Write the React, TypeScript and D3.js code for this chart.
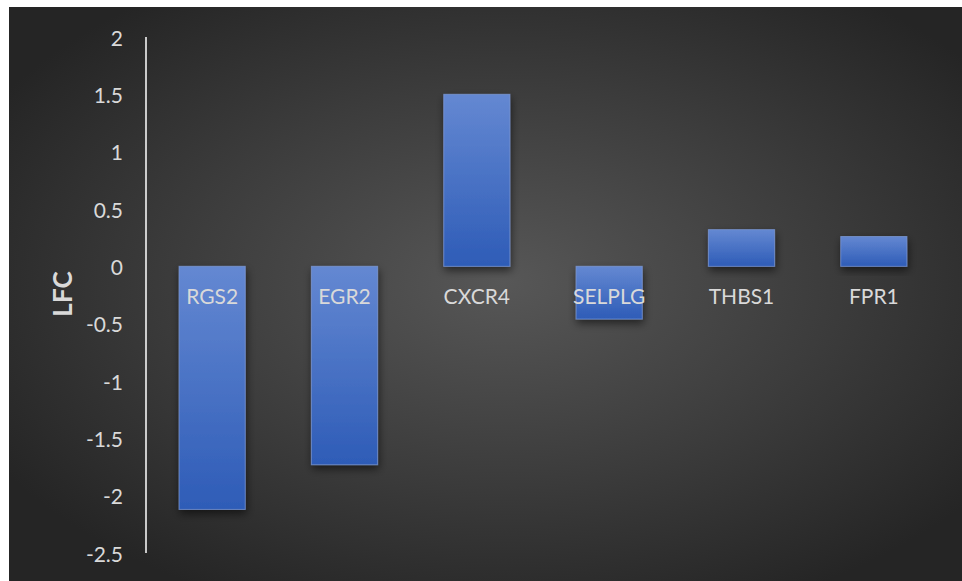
import React from "react";
import * as d3 from "d3";

// Log fold change per gene
const genes = ["RGS2", "EGR2", "CXCR4", "SELPLG", "THBS1", "FPR1"];
const lfc = [-2.12, -1.73, 1.5, -0.46, 0.32, 0.26];
const yTicks = [2, 1.5, 1, 0.5, 0, -0.5, -1, -1.5, -2, -2.5];
const yTitle = "LFC";

const W = 962;
const H = 581;
const FONT = "Lato, 'Open Sans', sans-serif";
const TEXT = "#d9d9d9";

export default function App() {
  const x = d3
    .scaleBand<string>()
    .domain(genes)
    .range([146, 940])
    .paddingInner(0.5)
    .paddingOuter(0.25);
  const y = d3.scaleLinear().domain([-2.5, 2]).range([553, 37]);
  const y0 = y(0);

  return (
    <svg
      width={W}
      height={H}
      style={{ position: "absolute", left: 0, top: 0, display: "block" }}
    >
      <defs>
        <radialGradient id="bg" cx="52%" cy="48%" r="62%" fx="52%" fy="48%">
          <stop offset="0%" stopColor="#575757" />
          <stop offset="55%" stopColor="#3c3c3c" />
          <stop offset="100%" stopColor="#252525" />
        </radialGradient>
        <linearGradient id="barFill" x1="0" y1="0" x2="0" y2="1">
          <stop offset="0%" stopColor="#6488d2" />
          <stop offset="100%" stopColor="#2e5cb7" />
        </linearGradient>
        <filter id="shadow" x="-30%" y="-30%" width="160%" height="160%">
          <feDropShadow dx="1" dy="4" stdDeviation="4" floodColor="#000" floodOpacity="0.55" />
        </filter>
        <filter id="lineShadow" x="-5%" y="-200%" width="110%" height="500%">
          <feDropShadow dx="0" dy="3" stdDeviation="3" floodColor="#000" floodOpacity="0.4" />
        </filter>
      </defs>
      <rect x={0} y={0} width={W} height={H} fill="#fff" />
      <rect x={9} y={7} width={W - 9} height={H - 7} fill="url(#bg)" />

      {/* bars */}
      {genes.map((g, i) => {
        const v = lfc[i];
        const top = Math.min(y(v), y0);
        const h = Math.abs(y(v) - y0);
        return (
          <rect
            key={g}
            x={x(g)}
            y={top}
            width={x.bandwidth()}
            height={h}
            fill="url(#barFill)"
            stroke="#7f9ddb"
            strokeWidth={1}
            strokeOpacity={0.7}
            filter="url(#shadow)"
          />
        );
      })}

      {/* zero line */}
      <line
        x1={146}
        x2={940}
        y1={y0}
        y2={y0}
        stroke="#fff"
        strokeWidth={2.5}
        filter="url(#lineShadow)"
      />
      {/* value axis */}
      <line x1={146} x2={146} y1={y(2)} y2={y(-2.5)} stroke="#fff" strokeWidth={1.5} />

      {/* tick labels */}
      {yTicks.map((t) => (
        <text
          key={t}
          x={123}
          y={y(t)}
          textAnchor="end"
          dominantBaseline="central"
          fill={TEXT}
          fontFamily={FONT}
          fontSize={21}
        >
          {t}
        </text>
      ))}

      {/* category labels */}
      {genes.map((g) => (
        <text
          key={g}
          x={(x(g) as number) + x.bandwidth() / 2}
          y={304}
          textAnchor="middle"
          fill={TEXT}
          fontFamily={FONT}
          fontSize={21}
        >
          {g}
        </text>
      ))}

      <text
        transform={`translate(62,294) rotate(-90)`}
        textAnchor="middle"
        dominantBaseline="central"
        fill={TEXT}
        fontFamily={FONT}
        fontWeight="bold"
        fontSize={26}
      >
        {yTitle}
      </text>
    </svg>
  );
}
